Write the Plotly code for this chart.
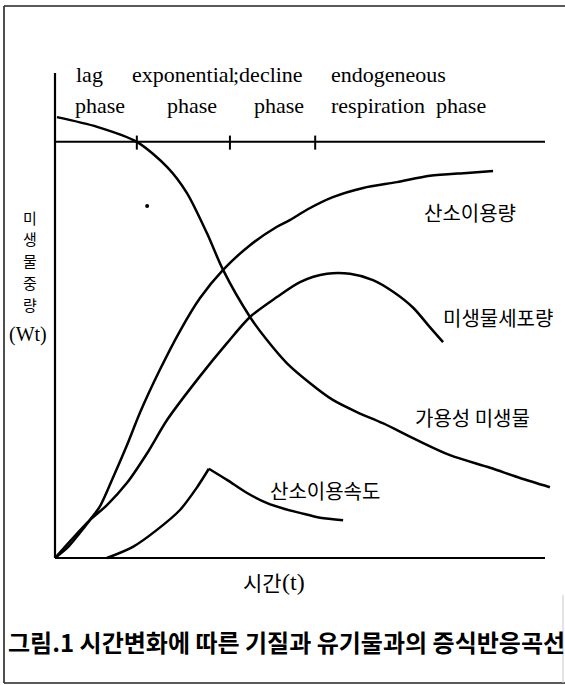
import plotly.graph_objects as go

W, H = 565, 685
# pixel frame of the data axes (time 0..100 horizontally, weight 0..100 vertically)
X0_PX, X_SCALE = 55.0, 4.9
Y0_PX, Y_SCALE = 558.0, 4.85

# ---------------- data ----------------
# 가용성 미생물 (available substrate)
t_substrate = [0.4, 8.6, 16.7, 22.9, 26.9, 31.0, 34.3, 39.8, 43.3, 47.3, 52.0,
               56.7, 61.6, 66.9, 73.9, 80.6, 88.8, 94.9, 101.0]
substrate = [90.9, 88.9, 85.8, 80.6, 75.3, 67.0, 59.4, 49.7, 44.9, 40.2, 36.1,
             32.6, 30.1, 27.8, 24.3, 21.2, 18.6, 16.5, 14.6]

# 산소이용량 (oxygen uptake)
t_oxygen = [0.0, 2.7, 5.1, 7.1, 9.2, 11.8, 14.7, 17.4, 21.4, 25.5, 29.6, 34.3,
            39.8, 45.3, 48.0, 51.4, 56.7, 62.9, 69.8, 76.5, 84.1, 89.4]
oxygen = [0.0, 2.3, 5.2, 7.8, 10.7, 16.5, 23.3, 30.1, 38.8, 46.8, 53.6, 59.4,
          64.5, 68.3, 69.7, 71.8, 74.4, 76.3, 77.5, 78.8, 79.4, 79.8]

# 미생물세포량 (cell mass)
t_cells = [0.0, 3.1, 7.1, 10.6, 14.7, 18.8, 22.9, 29.6, 35.1, 39.8, 45.3, 50.0,
           55.5, 60.2, 64.9, 69.0, 73.1, 76.5, 79.2]
cells = [0.0, 3.5, 7.8, 10.9, 15.5, 21.6, 28.5, 37.5, 44.3, 49.7, 53.8, 56.9,
         58.6, 58.6, 57.3, 54.9, 51.6, 47.6, 44.5]

# 산소이용속도 (oxygen uptake rate)
t_rate = [10.6, 15.9, 20.8, 25.5, 29.0, 31.4, 35.1, 39.2, 43.3, 46.9, 50.0, 54.1, 58.8]
rate = [0.0, 2.3, 5.8, 9.9, 14.6, 18.4, 16.1, 13.4, 11.3, 10.1, 9.3, 8.3, 7.8]
rate_peak = 5  # index of the sharp peak

# phase boundaries on the upper line
phase_bounds = [16.7, 35.7, 53.1]
phase_line_level = 85.8
axis_max = 100.0

# stray dot in the scan
dot_t, dot_y = [18.8], [72.6]

# ---------------- figure ----------------
fig = go.Figure()
line_style = dict(color="black", width=2.5, shape="spline", smoothing=0.8)

fig.add_trace(go.Scatter(x=t_substrate, y=substrate, mode="lines", line=line_style))
fig.add_trace(go.Scatter(x=t_oxygen, y=oxygen, mode="lines", line=line_style))
fig.add_trace(go.Scatter(x=t_cells, y=cells, mode="lines", line=line_style))
fig.add_trace(go.Scatter(x=t_rate[:rate_peak + 1], y=rate[:rate_peak + 1], mode="lines", line=line_style))
fig.add_trace(go.Scatter(x=t_rate[rate_peak:], y=rate[rate_peak:], mode="lines", line=line_style))
fig.add_trace(go.Scatter(x=dot_t, y=dot_y, mode="markers",
                         marker=dict(color="black", size=4)))

shapes = []
# axes
shapes.append(dict(type="line", xref="x", yref="y", x0=0, y0=0, x1=0, y1=axis_max,
                   line=dict(color="black", width=2.2)))
shapes.append(dict(type="line", xref="x", yref="y", x0=0, y0=0, x1=axis_max, y1=0,
                   line=dict(color="black", width=2.2)))
# upper phase line with boundary ticks
shapes.append(dict(type="line", xref="x", yref="y", x0=0, y0=phase_line_level,
                   x1=axis_max, y1=phase_line_level, line=dict(color="black", width=2)))
for b in phase_bounds:
    shapes.append(dict(type="line", xref="x", yref="y", x0=b, y0=phase_line_level - 1.6,
                       x1=b, y1=phase_line_level + 1.3, line=dict(color="black", width=2)))

def px(xp):
    return xp / W

def py(yp):
    return 1 - yp / H

# outer frame
frame = dict(color="#222", width=1.6)
shapes.append(dict(type="line", xref="paper", yref="paper", x0=px(4), y0=py(6), x1=px(565), y1=py(6), line=frame))
shapes.append(dict(type="line", xref="paper", yref="paper", x0=px(4), y0=py(6), x1=px(4), y1=py(683), line=frame))
shapes.append(dict(type="line", xref="paper", yref="paper", x0=px(4), y0=py(683), x1=px(565), y1=py(683), line=frame))
shapes.append(dict(type="line", xref="paper", yref="paper", x0=px(563), y0=py(595), x1=px(563), y1=py(683),
                   line=dict(color="#c8c8c8", width=1)))

SERIF = "Liberation Serif, Times New Roman, serif"
KR = "Noto Sans CJK KR, sans-serif"

ann = []
def text(s, x, y, size, family, xanchor="left", bold=False):
    ann.append(dict(text=("<b>%s</b>" % s) if bold else s, x=px(x), y=py(y),
                    xref="paper", yref="paper", xanchor=xanchor, yanchor="middle",
                    showarrow=False, font=dict(size=size, family=family, color="black")))

# phase labels
text("lag", 74, 74, 22, SERIF)
text("phase", 73, 106, 22, SERIF)
text("exponential", 130, 74, 22, SERIF)
text("phase", 165, 106, 22, SERIF)
text(";decline", 231, 74, 22, SERIF)
text("phase", 252, 106, 22, SERIF)
text("endogeneous", 329, 74, 22, SERIF)
text("respiration  phase", 329, 106, 22, SERIF)

# curve labels
text("산소이용량", 470, 213, 20, KR, "center")
text("미생물세포량", 498, 317, 20, KR, "center")
text("가용성 미생물", 473, 417, 20, KR, "center")
text("산소이용속도", 325, 490, 20, KR, "center")

# axis labels (vertical stack of characters)
y_label_chars = "미생물중량"
for i, ch in enumerate(y_label_chars):
    text(ch, 30, 217 + 21.9 * i, 15, KR, "center")
text("(Wt)", 28, 334, 20, SERIF, "center")
text("시간", 284, 582, 21, KR, "right")
text("(t)", 280, 582, 24, SERIF, "left")

# caption
text("그림.1 시간변화에 따른 기질과 유기물과의 증식반응곡선", 6, 641, 24, KR, "left", bold=True)

fig.update_layout(
    width=W, height=H,
    margin=dict(l=0, r=0, t=0, b=0, pad=0),
    paper_bgcolor="white", plot_bgcolor="white",
    showlegend=False,
    xaxis=dict(range=[(0 - X0_PX) / X_SCALE, (W - X0_PX) / X_SCALE], visible=False, fixedrange=True),
    yaxis=dict(range=[(Y0_PX - H) / Y_SCALE, Y0_PX / Y_SCALE], visible=False, fixedrange=True),
    shapes=shapes,
    annotations=ann,
)

fig.write_html("out.html", config={"displayModeBar": False},
               post_script="document.body.style.margin='0';document.body.style.overflow='hidden';")
